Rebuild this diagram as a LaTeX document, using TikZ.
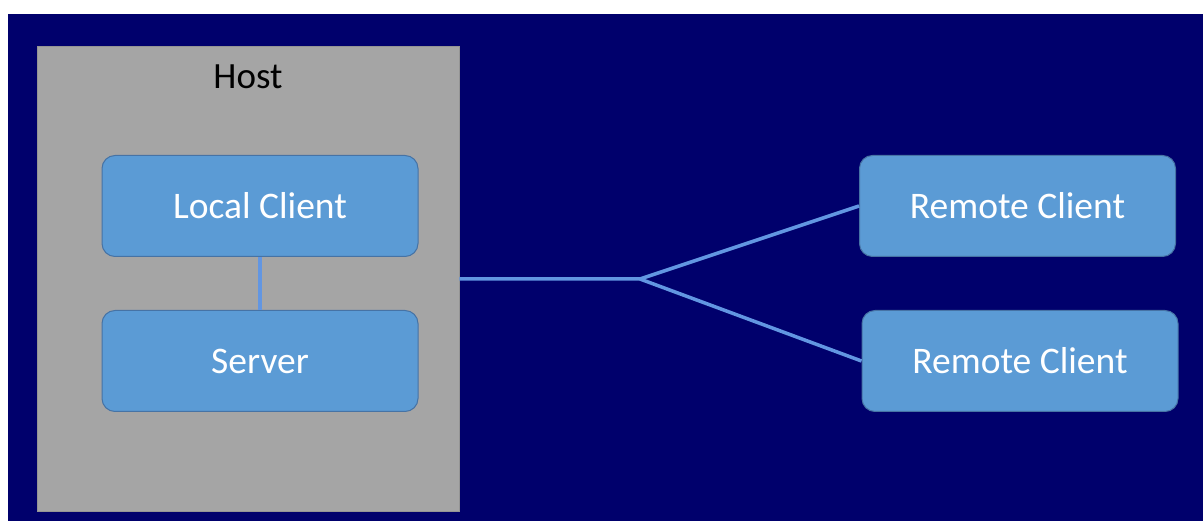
\documentclass[tikz,border=0pt]{standalone}
\usepackage{fontspec}
\setmainfont{Carlito}
\usepackage{tikz}
\usetikzlibrary{calc}
\usetikzlibrary{shapes}
\definecolor{navy}{RGB}{0,0,108}
\definecolor{hostgray}{RGB}{165,165,165}
\definecolor{boxblue}{RGB}{91,155,213}
\definecolor{boxedge}{RGB}{70,115,165}
\definecolor{wire}{RGB}{98,150,226}
\newcommand{\proc}[4]{\node[proc] (#1) at ( #2 , #3 ) {#4};}

\begin{document}
\begin{tikzpicture}[x=1pt, y=-1pt,
        proc/.style={draw=boxedge, line width=1pt, fill=boxblue, rounded corners=13pt,
            minimum width=316pt, minimum height=101pt, text=white,
            font=\fontsize{37.5}{42}\selectfont},
        wire/.style={draw=wire, line width=3.5pt}]
        % page and backdrop
        \fill[white] (0,0) rectangle (1203,521);
        \fill[navy] (8,14) rectangle (1203,521);
        % host
        \node[fill=hostgray, draw=hostgray!90!black, line width=0.6pt,
            minimum width=422pt, minimum height=465pt] (host) at (248,278.5) {};
        \node[font=\fontsize{37}{42}\selectfont] (hostlabel) at (248,77) {Host};
        % boxes
        \proc{local}{260}{206}{Local Client}
        \proc{server}{260}{361}{Server}
        \proc{remoteA}{1017.5}{206}{Remote Client}
        \proc{remoteB}{1020}{361}{Remote Client}
        % links
        \coordinate (split) at (640,279);
        \draw[wire] (local) -- (server);
        \draw[wire] (host.east |- split) -- (split) -- (remoteA.west);
        \draw[wire] (split) -- (remoteB.west);
    \end{tikzpicture}
\end{document}
